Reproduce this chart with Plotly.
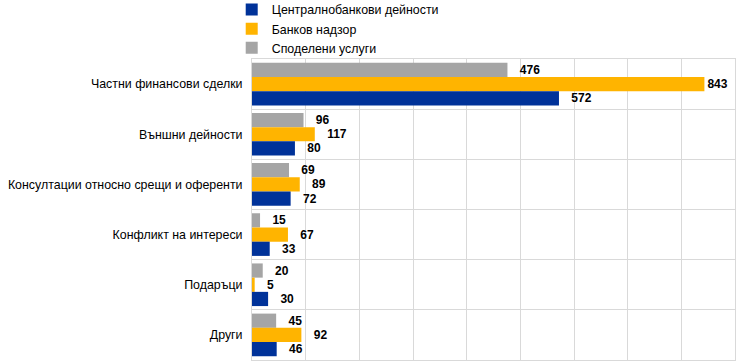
import plotly.graph_objects as go

categories = [
    "Частни финансови сделки",
    "Външни дейности",
    "Консултации относно срещи и оференти",
    "Конфликт на интереси",
    "Подаръци",
    "Други",
]
series_names = ["Централнобанкови дейности", "Банков надзор", "Споделени услуги"]
central_banking = [572, 80, 72, 33, 30, 46]
banking_supervision = [843, 117, 89, 67, 5, 92]
shared_services = [476, 96, 69, 15, 20, 45]

colors = {"Централнобанкови дейности": "#003299",
          "Банков надзор": "#FFB400",
          "Споделени услуги": "#A5A5A5"}

max_val = max(central_banking + banking_supervision + shared_services)


def label(v):
    # labels near the right edge sit closer to the bar end
    return ("" if v == max_val else "\u2002\u00a0") + str(v)


fig = go.Figure()
# gray top, orange middle, blue bottom within each group
for name, vals in [(series_names[2], shared_services),
                   (series_names[1], banking_supervision),
                   (series_names[0], central_banking)]:
    fig.add_trace(go.Bar(
        y=categories, x=vals, orientation="h", name=name,
        marker=dict(color=colors[name], line=dict(width=0)),
        text=[label(v) for v in vals],
        textposition="outside", cliponaxis=False,
        textfont=dict(family="Arial", size=12, color="#000000"),
        texttemplate="<b>%{text}</b>",
        hoverinfo="skip",
    ))

fig.update_layout(
    width=745, height=362,
    margin=dict(l=252, r=10, t=59, b=2, autoexpand=False),
    paper_bgcolor="white", plot_bgcolor="white",
    barmode="group", bargap=0.15, bargroupgap=0,
    font=dict(family="Arial", size=12.4, color="#000000"),
    showlegend=True,
    legend=dict(traceorder="reversed", x=-0.042, xanchor="left",
                y=1.2126, yanchor="top",
                font=dict(size=12.4, family="Arial"), itemclick=False,
                bgcolor="rgba(0,0,0,0)", tracegroupgap=0),
    xaxis=dict(range=[0, 900], dtick=100, showticklabels=False,
               showgrid=True, gridcolor="#D9D9D9", gridwidth=1,
               zeroline=False, showline=True, linecolor="#D9D9D9",
               mirror=True, ticks="", automargin=False),
    yaxis=dict(autorange="reversed", tickson="boundaries", showgrid=True,
               gridcolor="#D9D9D9", gridwidth=1, showline=True,
               linecolor="#D9D9D9", mirror=True, ticks="",
               ticklabelstandoff=6, automargin=False,
               tickfont=dict(size=12.4, family="Arial", color="#000000")),
)

fig.write_html("out.html", config={"displayModeBar": False},
               post_script="document.body.style.margin='0';")
